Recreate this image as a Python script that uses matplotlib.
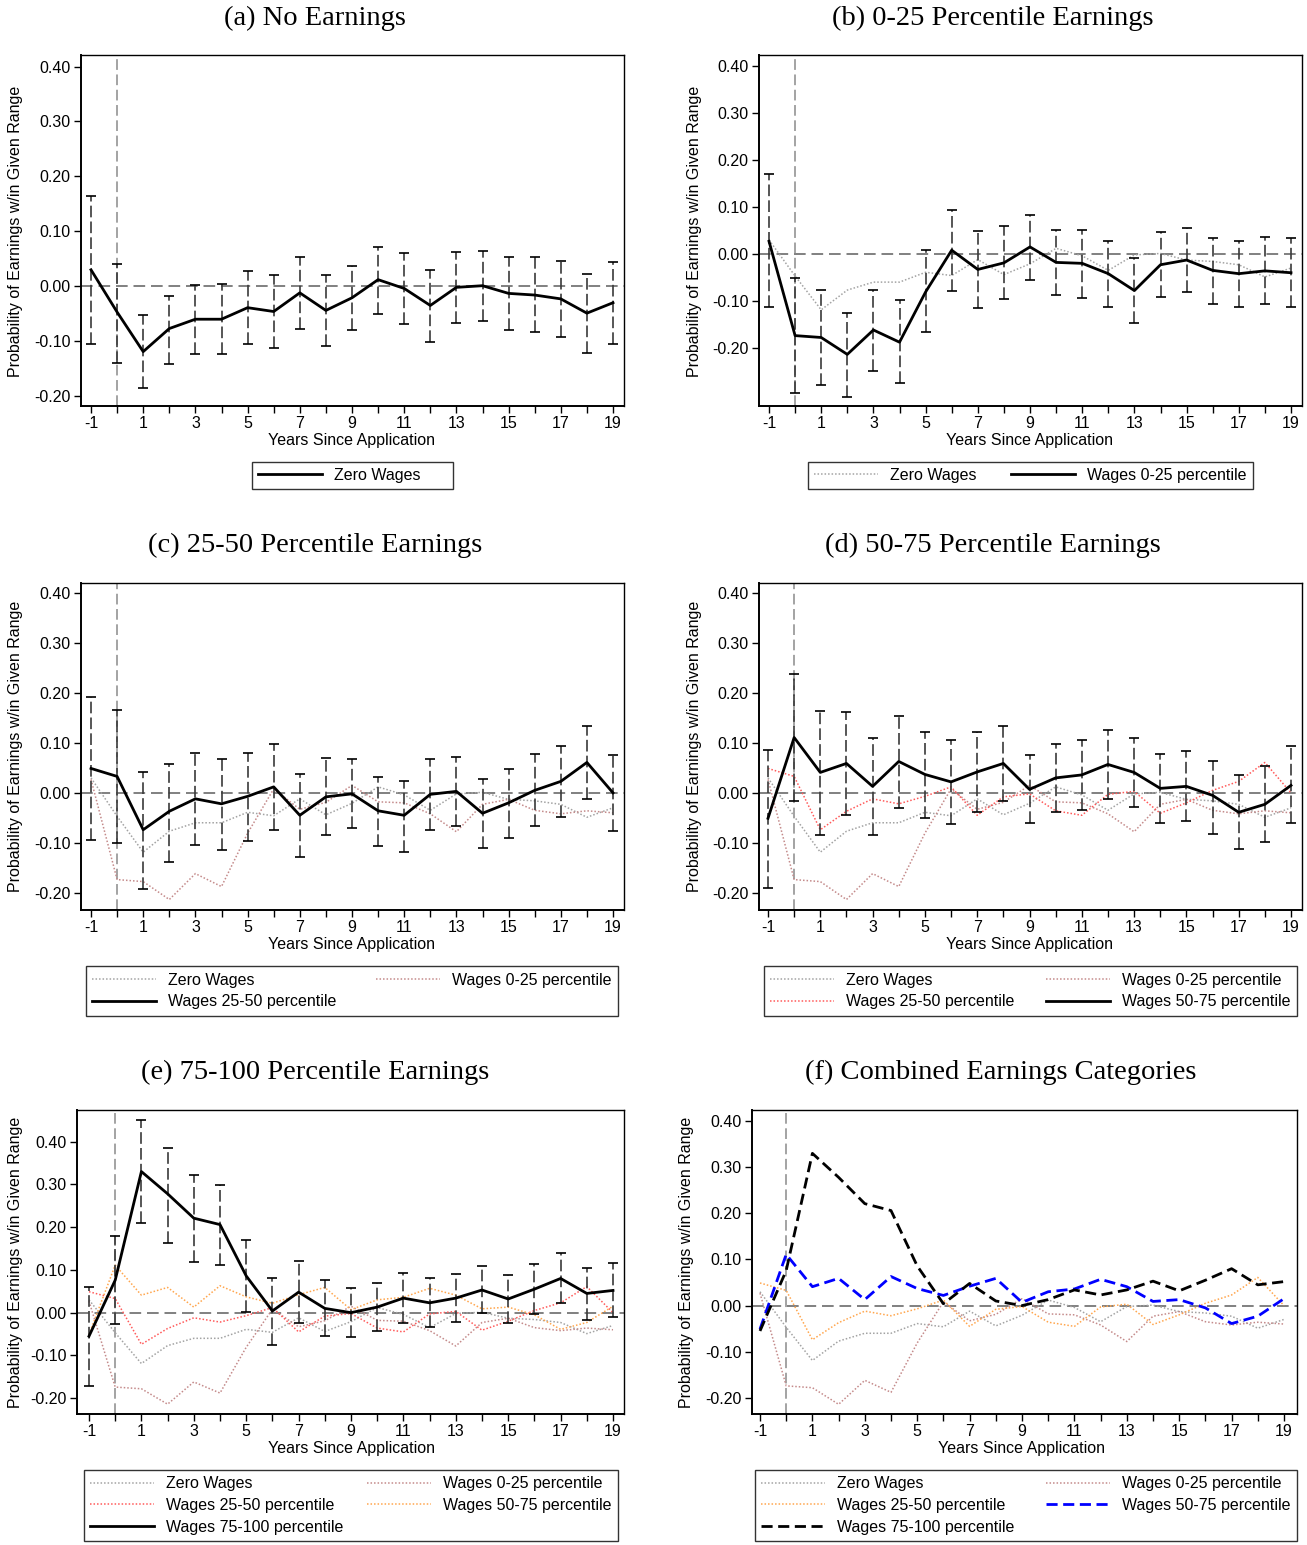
import matplotlib
matplotlib.use("Agg")
import matplotlib.pyplot as plt

plt.rcParams['font.family'] = ['Liberation Sans', 'DejaVu Sans']

# ---------------- data ----------------
years = list(range(-1, 20))
xtick_labels = [str(y) if y % 2 != 0 else "" for y in years]
ytick_vals = [-0.20, -0.10, 0.00, 0.10, 0.20, 0.30, 0.40]

zero = [0.030, -0.047, -0.119, -0.077, -0.060, -0.060, -0.039, -0.046, -0.012, -0.044, -0.021,
        0.012, -0.004, -0.035, -0.002, 0.001, -0.013, -0.016, -0.023, -0.049, -0.030]
zero_hi = [0.165, 0.040, -0.053, -0.018, 0.002, 0.004, 0.027, 0.021, 0.054, 0.020, 0.037,
           0.072, 0.060, 0.029, 0.063, 0.065, 0.053, 0.053, 0.046, 0.023, 0.045]
zero_lo = [-0.106, -0.139, -0.185, -0.142, -0.123, -0.124, -0.105, -0.112, -0.078, -0.108, -0.080,
           -0.050, -0.068, -0.101, -0.067, -0.064, -0.079, -0.084, -0.092, -0.121, -0.105]

p0_25 = [0.027, -0.174, -0.178, -0.214, -0.162, -0.188, -0.081, 0.008, -0.033, -0.019, 0.015,
         -0.018, -0.020, -0.042, -0.078, -0.023, -0.013, -0.035, -0.042, -0.036, -0.040]
p0_25_hi = [0.171, -0.051, -0.077, -0.125, -0.077, -0.099, 0.009, 0.094, 0.049, 0.060, 0.084,
            0.052, 0.052, 0.028, -0.008, 0.046, 0.056, 0.035, 0.028, 0.037, 0.034]
p0_25_lo = [-0.112, -0.297, -0.279, -0.304, -0.249, -0.275, -0.166, -0.078, -0.116, -0.097, -0.055,
            -0.088, -0.093, -0.113, -0.147, -0.091, -0.081, -0.106, -0.112, -0.107, -0.113]

p25_50 = [0.049, 0.033, -0.074, -0.037, -0.012, -0.022, -0.007, 0.012, -0.045, -0.008, -0.002,
          -0.036, -0.045, -0.003, 0.003, -0.041, -0.020, 0.005, 0.023, 0.061, 0.000]
p25_50_hi = [0.193, 0.167, 0.042, 0.058, 0.080, 0.068, 0.080, 0.098, 0.037, 0.069, 0.067,
             0.031, 0.024, 0.067, 0.072, 0.027, 0.047, 0.077, 0.095, 0.135, 0.076]
p25_50_lo = [-0.095, -0.100, -0.192, -0.139, -0.105, -0.114, -0.096, -0.074, -0.128, -0.085, -0.070,
             -0.106, -0.118, -0.074, -0.066, -0.110, -0.091, -0.067, -0.049, -0.013, -0.076]

p50_75 = [-0.051, 0.111, 0.041, 0.059, 0.013, 0.063, 0.037, 0.022, 0.042, 0.059, 0.007,
          0.030, 0.036, 0.057, 0.041, 0.009, 0.013, -0.005, -0.039, -0.023, 0.015]
p50_75_hi = [0.085, 0.238, 0.165, 0.163, 0.110, 0.155, 0.123, 0.106, 0.123, 0.135, 0.075,
             0.099, 0.107, 0.127, 0.111, 0.078, 0.083, 0.063, 0.035, 0.053, 0.093]
p50_75_lo = [-0.190, -0.016, -0.084, -0.045, -0.085, -0.030, -0.050, -0.063, -0.039, -0.017, -0.061,
             -0.038, -0.034, -0.013, -0.028, -0.060, -0.056, -0.082, -0.112, -0.098, -0.061]

p75_100 = [-0.055, 0.076, 0.330, 0.278, 0.221, 0.206, 0.086, 0.004, 0.048, 0.010, 0.000,
           0.013, 0.034, 0.023, 0.034, 0.053, 0.032, 0.055, 0.080, 0.045, 0.052]
p75_100_hi = [0.060, 0.180, 0.450, 0.385, 0.323, 0.299, 0.171, 0.082, 0.120, 0.077, 0.058,
              0.069, 0.093, 0.080, 0.091, 0.110, 0.089, 0.114, 0.139, 0.105, 0.115]
p75_100_lo = [-0.171, -0.026, 0.209, 0.164, 0.119, 0.111, 0.002, -0.075, -0.025, -0.055, -0.057,
              -0.044, -0.023, -0.034, -0.021, -0.001, -0.023, -0.002, 0.022, -0.016, -0.011]

# ---------------- styling ----------------
W, H = 1307, 1545
fig = plt.figure(figsize=(W / 100, H / 100), dpi=100)

GREY = '#a3a3a3'
ROSY = '#c48a8a'
RED = '#ff5a5a'
ORANGE = '#ffa64d'
BLUE = '#0000ff'
FS = 11.5
SERIF = ['Liberation Serif', 'DejaVu Serif']


def px_axes(left, top, right, bottom):
    return fig.add_axes([left / W, 1 - bottom / H, (right - left) / W, (bottom - top) / H])


def setup(ax, box, xm1, x19, ylim):
    left, top, right, bottom = box
    u = 20.0 / (x19 - xm1)
    ax.set_xlim(-1 - (xm1 - left) * u, 19 + (right - x19) * u)
    ax.set_ylim(*ylim)
    ax.set_xticks(years)
    ax.set_xticklabels(xtick_labels, fontsize=FS)
    ax.set_yticks(ytick_vals)
    ax.set_yticklabels([f"{v:.2f}" for v in ytick_vals], fontsize=FS)
    ax.tick_params(direction='out', length=5, width=1.0, pad=2.5)
    for s in ['top', 'right']:
        ax.spines[s].set_linewidth(1.0)
    for s in ['left', 'bottom']:
        ax.spines[s].set_linewidth(1.4)
    ax.axhline(0, color='#808080', lw=1.4, ls=(0, (6, 3)), zorder=1)
    ax.axvline(0, color='#8a8a8a', lw=1.1, ls=(0, (7, 3)), zorder=1)


def errbars(ax, lo, hi):
    ax.vlines(years, lo, hi, colors='#3a3a3a', lw=1.2, linestyles=(0, (7, 2.5)), zorder=3)
    ax.plot(years, lo, ls='none', marker='_', ms=6.5, mew=1.2, color='black', zorder=3)
    ax.plot(years, hi, ls='none', marker='_', ms=6.5, mew=1.2, color='black', zorder=3)


def dotted(ax, vals, color, label):
    return ax.plot(years, vals, ls=(0, (1, 1.3)), lw=1.1, color=color, label=label, zorder=2)[0]


def texts(title, tx, ty, ylx, yly, xlx, xly):
    fig.text(tx / W, 1 - ty / H, title, family=SERIF, fontsize=20.5, ha='center', va='center')
    fig.text(ylx / W, 1 - yly / H, "Probability of Earnings w/in Given Range", rotation=90,
             fontsize=FS, ha='center', va='center')
    fig.text(xlx / W, 1 - xly / H, "Years Since Application", fontsize=FS, ha='center', va='center')


def legend_expand(handles, box, ncol=2):
    l, t, r, b = box
    leg = fig.legend(handles=handles, loc='center', mode='expand', ncol=ncol,
                     bbox_to_anchor=(l / W, 1 - b / H, (r - l) / W, (b - t) / H),
                     fontsize=FS, frameon=True, fancybox=False, edgecolor='black',
                     handlelength=4.0, handletextpad=0.75, labelspacing=0.42, borderpad=0.4,
                     borderaxespad=0)
    leg.get_frame().set_linewidth(1.0)
    return leg


# ---------------- (a) ----------------
box = (81, 55, 624, 406)
ax = px_axes(*box)
setup(ax, box, 91, 613, (-0.218, 0.421))
h_main = ax.plot(years, zero, color='black', lw=2.0, label='Zero Wages', zorder=4)[0]
errbars(ax, zero_lo, zero_hi)
texts("(a) No Earnings", 315, 18, 16, 231, 352, 441)
legend_expand([h_main], (252, 461, 453, 490), ncol=1)

# ---------------- (b) ----------------
box = (759, 55, 1302, 406)
ax = px_axes(*box)
setup(ax, box, 769, 1291, (-0.324, 0.424))
h0 = dotted(ax, zero, GREY, 'Zero Wages')
h1 = ax.plot(years, p0_25, color='black', lw=2.0, label='Wages 0-25 percentile', zorder=4)[0]
errbars(ax, p0_25_lo, p0_25_hi)
texts("(b) 0-25 Percentile Earnings", 993, 18, 694, 231, 1030, 441)
legend_expand([h0, h1], (808, 461, 1253, 490))

# ---------------- (c) ----------------
box = (81, 583, 624, 910)
ax = px_axes(*box)
setup(ax, box, 91, 613, (-0.235, 0.421))
h0 = dotted(ax, zero, GREY, 'Zero Wages')
h1 = dotted(ax, p0_25, ROSY, 'Wages 0-25 percentile')
h2 = ax.plot(years, p25_50, color='black', lw=2.0, label='Wages 25-50 percentile', zorder=4)[0]
errbars(ax, p25_50_lo, p25_50_hi)
texts("(c) 25-50 Percentile Earnings", 315, 545, 16, 746, 352, 945)
legend_expand([h0, h2, h1], (86, 965, 618, 1017))

# ---------------- (d) ----------------
box = (759, 583, 1302, 910)
ax = px_axes(*box)
setup(ax, box, 768, 1291, (-0.235, 0.421))
h0 = dotted(ax, zero, GREY, 'Zero Wages')
h1 = dotted(ax, p0_25, ROSY, 'Wages 0-25 percentile')
h2 = dotted(ax, p25_50, RED, 'Wages 25-50 percentile')
h3 = ax.plot(years, p50_75, color='black', lw=2.0, label='Wages 50-75 percentile', zorder=4)[0]
errbars(ax, p50_75_lo, p50_75_hi)
texts("(d) 50-75 Percentile Earnings", 993, 545, 694, 746, 1030, 945)
legend_expand([h0, h2, h1, h3], (764, 965, 1297, 1017))

# ---------------- (e) ----------------
box = (77, 1110, 624, 1414)
ax = px_axes(*box)
setup(ax, box, 89, 613, (-0.237, 0.474))
h0 = dotted(ax, zero, GREY, 'Zero Wages')
h1 = dotted(ax, p0_25, ROSY, 'Wages 0-25 percentile')
h2 = dotted(ax, p25_50, RED, 'Wages 25-50 percentile')
h3 = dotted(ax, p50_75, ORANGE, 'Wages 50-75 percentile')
h4 = ax.plot(years, p75_100, color='black', lw=2.0, label='Wages 75-100 percentile', zorder=4)[0]
errbars(ax, p75_100_lo, p75_100_hi)
texts("(e) 75-100 Percentile Earnings", 315, 1072, 16, 1262, 351, 1449)
legend_expand([h0, h2, h4, h1, h3], (84, 1468, 618, 1543))

# ---------------- (f) ----------------
box = (752, 1110, 1297, 1414)
ax = px_axes(*box)
setup(ax, box, 760, 1284, (-0.235, 0.424))
h0 = dotted(ax, zero, GREY, 'Zero Wages')
h1 = dotted(ax, p0_25, ROSY, 'Wages 0-25 percentile')
h2 = dotted(ax, p25_50, ORANGE, 'Wages 25-50 percentile')
h3 = ax.plot(years, p50_75, color=BLUE, lw=2.0, ls=(0, (4, 2)), label='Wages 50-75 percentile', zorder=4)[0]
h4 = ax.plot(years, p75_100, color='black', lw=2.0, ls=(0, (4, 2)), label='Wages 75-100 percentile', zorder=4)[0]
texts("(f) Combined Earnings Categories", 1001, 1072, 687, 1262, 1022, 1449)
legend_expand([h0, h2, h4, h1, h3], (755, 1468, 1297, 1543))

fig.savefig("out.png", dpi=100)
